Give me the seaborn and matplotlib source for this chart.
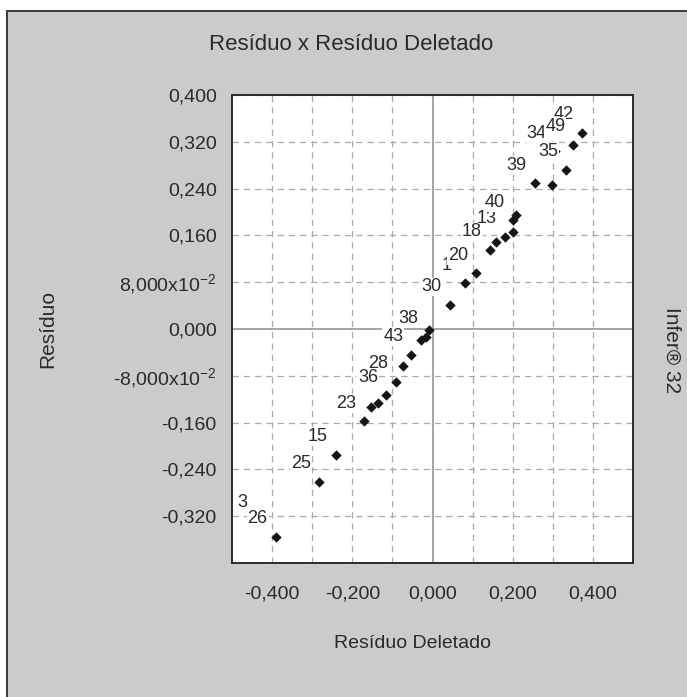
import matplotlib
matplotlib.use("Agg")
import matplotlib.pyplot as plt
from matplotlib.patches import Rectangle
import seaborn as sns
import pandas as pd

# Deleted residual (x) vs. residual (y) for each observation
residuo_deletado = [-0.391, -0.430, -0.283, -0.241, -0.170, -0.153, -0.137, -0.116,
                    -0.091, -0.074, -0.053, -0.028, -0.016, -0.008, 0.043, 0.080,
                    0.109, 0.143, 0.159, 0.180, 0.201, 0.201, 0.209, 0.255,
                    0.297, 0.305, 0.334, 0.351, 0.372]
residuo = [-0.355, -0.327, -0.261, -0.215, -0.158, -0.133, -0.127, -0.113,
           -0.090, -0.064, -0.044, -0.019, -0.013, -0.002, 0.041, 0.078,
           0.095, 0.135, 0.149, 0.158, 0.166, 0.186, 0.195, 0.249,
           0.246, 0.304, 0.272, 0.315, 0.335]
# Observation numbers shown beside the points ("" = no label)
observacao = ["26", "3", "25", "15", "23", "", "", "36",
              "28", "", "43", "", "38", "", "30", "1",
              "20", "18", "", "13", "", "40", "", "39",
              "", "34", "35", "49", "42"]

x_ticks = [-0.4, -0.2, 0.0, 0.2, 0.4]
x_tick_labels = ["-0,400", "-0,200", "0,000", "0,200", "0,400"]
x_grid_minor = [-0.3, -0.1, 0.1, 0.3]
y_ticks = [0.40, 0.32, 0.24, 0.16, 0.08, 0.0, -0.08, -0.16, -0.24, -0.32]
y_tick_labels = ["0,400", "0,320", "0,240", "0,160",
                 "8,000x10$^{\\mathregular{-2}}$", "0,000",
                 "-8,000x10$^{\\mathregular{-2}}$", "-0,160", "-0,240", "-0,320"]

df = pd.DataFrame({"Resíduo Deletado": residuo_deletado,
                   "Resíduo": residuo,
                   "obs": observacao})

sns.set_style("white")
plt.rcParams["font.family"] = ["Liberation Sans", "DejaVu Sans"]
plt.rcParams["mathtext.fontset"] = "custom"
plt.rcParams["mathtext.rm"] = "Liberation Sans"

W, H = 687, 697
fig = plt.figure(figsize=(W / 100, H / 100), dpi=100)
fig.patch.set_facecolor("white")

# grey panel behind the chart
panel_color = "#cacbcd"
fig.patches.append(Rectangle((7 / W, -0.05), 1.2, 1.05 - 11 / H,
                             transform=fig.transFigure, facecolor=panel_color,
                             edgecolor="#3a3a3a", linewidth=1.4, zorder=-10))

ax = fig.add_axes([232 / W, 1 - 563 / H, 401 / W, 468 / H])
ax.set_facecolor("white")

sns.scatterplot(data=df, x="Resíduo Deletado", y="Resíduo", ax=ax,
                marker="D", s=28, color="#151515", linewidth=0, zorder=2)

ax.set_xlim(-0.5, 0.5)
ax.set_ylim(-0.4, 0.4)

# dashed grid, solid zero lines
grid_kw = dict(color="#a9a9a9", linewidth=0.9, linestyle=(0, (5, 4)), zorder=0.5)
for xv in x_ticks + x_grid_minor:
    if xv != 0:
        ax.axvline(xv, **grid_kw)
for yv in y_ticks:
    if yv != 0:
        ax.axhline(yv, **grid_kw)
ax.axvline(0, color="#8c8c8c", linewidth=1.1, zorder=0.6)
ax.axhline(0, color="#8c8c8c", linewidth=1.1, zorder=0.6)

ax.set_xticks(x_ticks)
ax.set_xticklabels(x_tick_labels)
ax.set_yticks(y_ticks)
ax.set_yticklabels(y_tick_labels)
ax.tick_params(axis="both", which="major", length=4, width=1, color="#555555",
               labelsize=14, labelcolor="#2a2a2a", direction="out")
ax.tick_params(axis="x", pad=12)
ax.tick_params(axis="y", pad=7)
ax.set_xlabel("")
ax.set_ylabel("")

for side in ["top", "bottom", "left", "right"]:
    ax.spines[side].set_visible(True)
    ax.spines[side].set_color("#2b2b2b")
    ax.spines[side].set_linewidth(1.4)

# observation labels on white boxes, upper-left of each point
order = sorted([i for i, t in enumerate(observacao) if t], key=lambda i: int(observacao[i]))
for i in order:
    ax.annotate(observacao[i], (residuo_deletado[i], residuo[i]),
                xytext=(-13, 13), textcoords="offset points",
                ha="center", va="center", fontsize=13, color="#2a2a2a",
                bbox=dict(boxstyle="square,pad=0.05", facecolor="white",
                          edgecolor="none"),
                zorder=3, annotation_clip=False, clip_on=True)

fig.text(351 / W, 1 - 45 / H, "Resíduo x Resíduo Deletado", ha="center",
         va="center", fontsize=16, color="#2a2a2a")
fig.text(413 / W, 1 - 643 / H, "Resíduo Deletado", ha="center", va="center",
         fontsize=14, color="#2a2a2a")
fig.text(48 / W, 1 - 329 / H, "Resíduo", ha="center", va="center",
         rotation=90, fontsize=15, color="#2a2a2a")
fig.text(672 / W, 1 - 350 / H, "Infer® 32", ha="center", va="center",
         rotation=270, fontsize=15, color="#2a2a2a")

fig.savefig("out.png", dpi=100)
